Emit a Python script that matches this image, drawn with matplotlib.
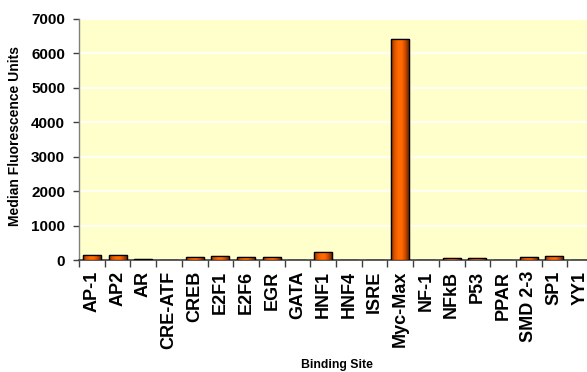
import numpy as np
import matplotlib.pyplot as plt
from matplotlib.colors import LinearSegmentedColormap

plt.rcParams['font.family'] = ['Liberation Sans', 'DejaVu Sans']
plt.rcParams['font.weight'] = 'bold'

sites = ['AP-1', 'AP2', 'AR', 'CRE-ATF', 'CREB', 'E2F1', 'E2F6', 'EGR', 'GATA',
         'HNF1', 'HNF4', 'ISRE', 'Myc-Max', 'NF-1', 'NFkB', 'P53', 'PPAR',
         'SMD 2-3', 'SP1', 'YY1']
mfu = [140, 140, 30, 0, 90, 130, 80, 100, 0,
       230, 0, 0, 6430, 0, 60, 60, 0,
       100, 110, 0]
yticks = [0, 1000, 2000, 3000, 4000, 5000, 6000, 7000]

fig = plt.figure(figsize=(5.87, 3.72), dpi=100)
# plot area runs slightly past the right edge of the figure
ax = fig.add_axes([79 / 587, 1 - 260 / 372, 514 / 587, 241 / 372])
ax.set_facecolor('#FFFFCC')

x = np.arange(len(sites))
bars = ax.bar(x, mfu, width=0.7, color='#FF6600', edgecolor='black',
              linewidth=0.9, zorder=3)

# cylinder-style shading across each bar
shade = LinearSegmentedColormap.from_list(
    'shade', ['#7A2E00', '#E05500', '#FF6A00', '#FF6A00', '#D04A00', '#6A2600'])
grad = np.linspace(0, 1, 64).reshape(1, -1)
for b, v in zip(bars, mfu):
    if v <= 0:
        continue
    x0, w = b.get_x(), b.get_width()
    im = ax.imshow(grad, cmap=shade, aspect='auto', zorder=3.5,
                   extent=[x0, x0 + w, 0, v], interpolation='bilinear')
    im.set_clip_path(b)
    ax.add_patch(plt.Rectangle((x0, 0), w, v, fill=False, edgecolor='black',
                               linewidth=0.9, zorder=4))

ax.set_xlim(-0.5, len(sites) - 0.5)
ax.set_ylim(0, 7000)
ax.set_yticks(yticks)
ax.set_yticklabels([str(t) for t in yticks], fontsize=11, fontweight='bold')
ax.yaxis.grid(True, color='white', linewidth=1.2, zorder=1)
ax.set_axisbelow(True)

ax.set_xticks(x)
ax.set_xticklabels(sites, rotation=90, fontsize=13, fontweight='bold')
ax.tick_params(axis='x', length=0, pad=8)
ax.set_xticks(np.arange(-0.5, len(sites)), minor=True)
ax.tick_params(axis='x', which='minor', length=5, width=1, color='#404040')
ax.tick_params(axis='y', length=4, width=1, color='#404040', pad=6)

for s in ['top', 'right']:
    ax.spines[s].set_visible(False)
ax.spines['left'].set_color('#808080')
ax.spines['bottom'].set_color('#404040')
ax.spines['left'].set_linewidth(1)
ax.spines['bottom'].set_linewidth(1.2)

fig.text(15 / 587, 1 - 136 / 372, 'Median Fluorescence Units', fontsize=10,
         fontweight='bold', rotation=90, ha='center', va='center')
fig.text(337 / 587, 1 - 365 / 372, 'Binding Site', fontsize=8.8,
         fontweight='bold', ha='center', va='center')

fig.savefig('out.png', dpi=100, facecolor='white')
